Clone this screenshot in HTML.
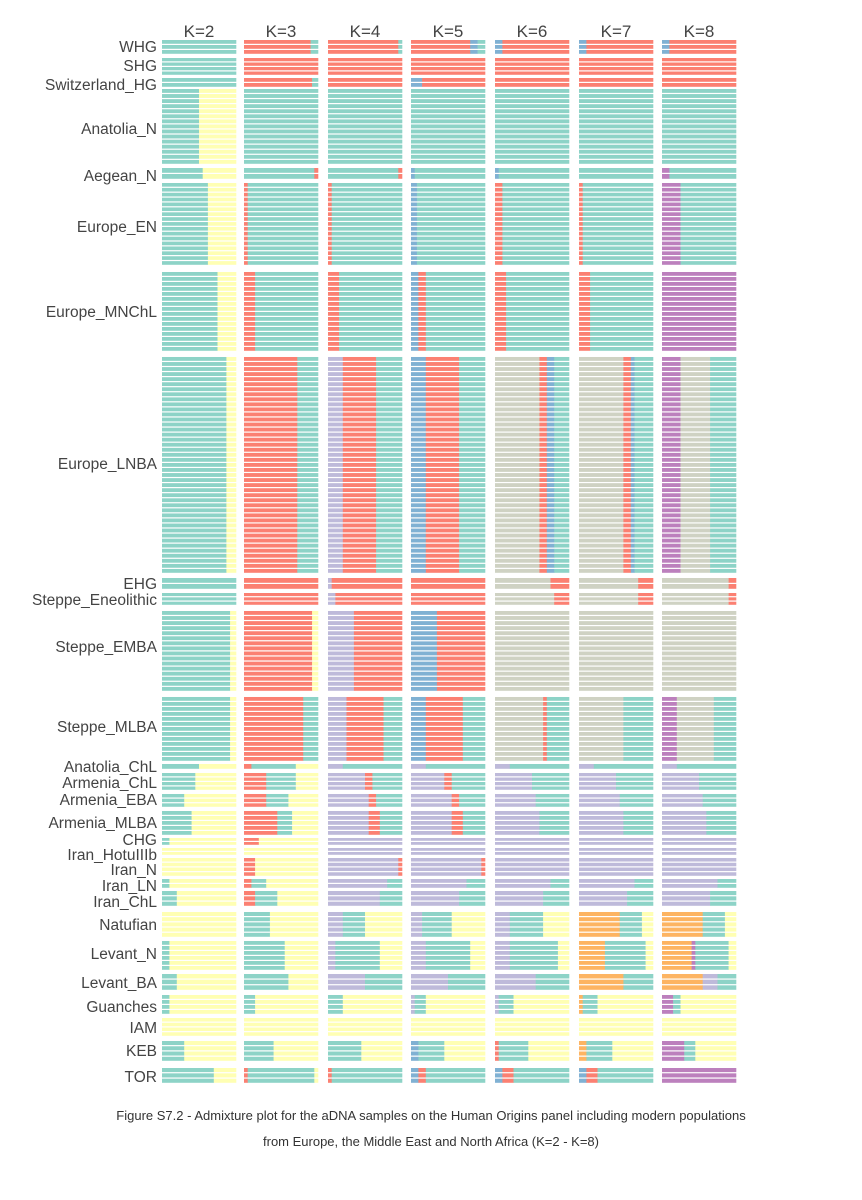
<!DOCTYPE html>
<html><head><meta charset="utf-8"><style>
html,body{margin:0;padding:0;background:#fff}
svg{display:block}
</style></head><body>
<svg id="chart" width="862" height="1200" xmlns="http://www.w3.org/2000/svg" font-family="Liberation Sans, sans-serif">
<g id="titles"></g><g id="labels"></g><g id="bars"></g>
<text x="431" y="1120" text-anchor="middle" font-size="13" fill="#333">Figure S7.2 - Admixture plot for the aDNA samples on the Human Origins panel including modern populations</text>
<text x="431" y="1146" text-anchor="middle" font-size="13" fill="#333">from Europe, the Middle East and North Africa (K=2 - K=8)</text>
</svg>
<script>
const kLabels=["K=2","K=3","K=4","K=5","K=6","K=7","K=8"];
const groups=["WHG","SHG","Switzerland_HG","Anatolia_N","Aegean_N","Europe_EN","Europe_MNChL","Europe_LNBA","EHG","Steppe_Eneolithic","Steppe_EMBA","Steppe_MLBA","Anatolia_ChL","Armenia_ChL","Armenia_EBA","Armenia_MLBA","CHG","Iran_HotuIIIb","Iran_N","Iran_LN","Iran_ChL","Natufian","Levant_N","Levant_BA","Guanches","IAM","KEB","TOR"];
const groupTop=[40,58,78,89,168,183,272,357,578,593,611,697,764,773,794,811,838,848,858,879,891,912,941,974,995,1018,1041,1068];
const groupBottom=[55,76,88,165,180,266,352,574,590,606,692,762,770,791,808,836,846,856,877,889,907,938,971,991,1015,1037,1062,1084];
const labelY=[47,66,85,129,176,227,312,464,584,600,647,727,767,783,800,823,840,855,870,886,902,925,954,983,1007,1028,1051,1077];
// composition per group per K: ancestry code + fraction
const comps=[
["T1","R.9 T.1","R.95 T.05","R.8 B.1 T.1","B.1 R.9","B.1 R.9","B.1 R.9"],
["T1","R1","R1","R1","R1","R1","R1"],
["T1","R.92 T.08","R1","B.15 R.85","R1","R1","R1"],
["T.5 Y.5","T1","T1","T1","T1","T1","T1"],
["T.55 Y.45","T.95 R.05","T.95 R.05","B.05 T.95","B.05 T.95","T1","P.1 T.9"],
["T.62 Y.38","R.05 T.95","R.05 T.95","B.08 T.92","R.1 T.9","R.05 T.95","P.25 T.75"],
["T.75 Y.25","R.15 T.85","R.15 T.85","B.1 R.1 T.8","R.15 T.85","R.15 T.85","P1"],
["T.87 Y.13","R.72 T.28","L.2 R.45 T.35","B.2 R.45 T.35","G.6 R.1 B.1 T.2","G.6 R.1 B.05 T.25","P.25 G.4 T.35"],
["T1","R1","L.05 R.95","R1","G.75 R.25","G.8 R.2","G.9 R.1"],
["T1","R1","L.1 R.9","R1","G.8 R.2","G.8 R.2","G.9 R.1"],
["T.92 Y.08","R.92 Y.08","L.35 R.65","B.35 R.65","G1","G1","G1"],
["T.92 Y.08","R.8 T.2","L.25 R.5 T.25","B.2 R.5 T.3","G.65 R.05 T.3","G.6 T.4","P.2 G.5 T.3"],
["T.5 Y.5","R.1 T.6 Y.3","L.2 T.8","L.2 T.8","L.2 T.8","L.2 T.8","L.2 T.8"],
["T.45 Y.55","R.3 T.4 Y.3","L.5 R.1 T.4","L.45 R.1 T.45","L.5 T.5","L.5 T.5","L.5 T.5"],
["T.3 Y.7","R.3 T.3 Y.4","L.55 R.1 T.35","L.55 R.1 T.35","L.55 T.45","L.55 T.45","L.55 T.45"],
["T.4 Y.6","R.45 T.2 Y.35","L.55 R.15 T.3","L.55 R.15 T.3","L.6 T.4","L.6 T.4","L.6 T.4"],
["T.1 Y.9","R.2 Y.8","L1","L1","L1","L1","L1"],
["Y1","Y1","L1","L1","L1","L1","L1"],
["Y1","R.15 Y.85","L.95 R.05","L.95 R.05","L1","L1","L1"],
["T.1 Y.9","R.1 T.2 Y.7","L.8 T.2","L.75 T.25","L.75 T.25","L.75 T.25","L.75 T.25"],
["T.2 Y.8","R.15 T.3 Y.55","L.7 T.3","L.65 T.35","L.65 T.35","L.65 T.35","L.65 T.35"],
["Y1","T.35 Y.65","L.2 T.3 Y.5","L.15 T.4 Y.45","L.2 T.45 Y.35","O.55 T.3 Y.15","O.55 T.3 Y.15"],
["T.1 Y.9","T.55 Y.45","L.1 T.6 Y.3","L.2 T.6 Y.2","L.2 T.65 Y.15","O.35 T.55 Y.1","O.4 P.05 T.45 Y.1"],
["T.2 Y.8","T.6 Y.4","L.5 T.5","L.5 T.5","L.55 T.45","O.6 T.4","O.55 L.2 T.25"],
["T.1 Y.9","T.15 Y.85","T.2 Y.8","L.05 T.15 Y.8","L.05 T.2 Y.75","O.05 T.2 Y.75","P.15 T.1 Y.75"],
["Y1","Y1","Y1","Y1","Y1","Y1","Y1"],
["T.3 Y.7","T.4 Y.6","T.45 Y.55","B.1 T.35 Y.55","R.05 T.4 Y.55","O.1 T.35 Y.55","P.3 T.15 Y.55"],
["T.7 Y.3","R.05 T.9 Y.05","R.05 T.95","B.1 R.1 T.8","B.1 R.15 T.75","B.1 R.15 T.75","P1"]
];
const colors={T:"#8dd3c7",Y:"#ffffb3",R:"#fb8072",L:"#bebada",B:"#80b1d3",G:"#cfd2c3",O:"#fdb462",P:"#bc80bd"};
const panelX=[162,244,328,411,495,579,662], panelW=74, pitch=5;
const NS="http://www.w3.org/2000/svg";
function mk(tag,attrs,parent){const e=document.createElementNS(NS,tag);for(const k in attrs)e.setAttribute(k,attrs[k]);parent.appendChild(e);return e;}
const T=document.getElementById("titles"),L=document.getElementById("labels"),B=document.getElementById("bars");
kLabels.forEach((k,i)=>{
  const t=mk("text",{x:panelX[i]+panelW/2,y:37,"text-anchor":"middle","font-size":17,fill:"#444"},T);
  
  
  t.textContent=k;
});
groups.forEach((g,gi)=>{
  const t=mk("text",{x:157,y:labelY[gi]+5,"text-anchor":"end","font-size":15.5,fill:"#444"},L);
  
  
  t.textContent=g;
  const h=groupBottom[gi]-groupTop[gi];
  const n=Math.max(1,Math.round(h/pitch));
  const p=h/n;
  for(let ki=0;ki<kLabels.length;ki++){
    const parts=comps[gi][ki].split(" ").map(s=>[s[0],parseFloat(s.slice(1))]);
    const tot=parts.reduce((a,b)=>a+b[1],0);
    for(let r=0;r<n;r++){
      let x=panelX[ki];
      const y=groupTop[gi]+r*p;
      parts.forEach(([c,f])=>{
        const w=panelW*f/tot;
        const rc=mk("rect",{x:x.toFixed(2),y:y.toFixed(2),width:(w+0.3).toFixed(2),height:Math.max(1,p-1.2).toFixed(2),fill:colors[c]},B);
        
        
        x+=w;
      });
    }
  }
});
</script>
</body></html>
